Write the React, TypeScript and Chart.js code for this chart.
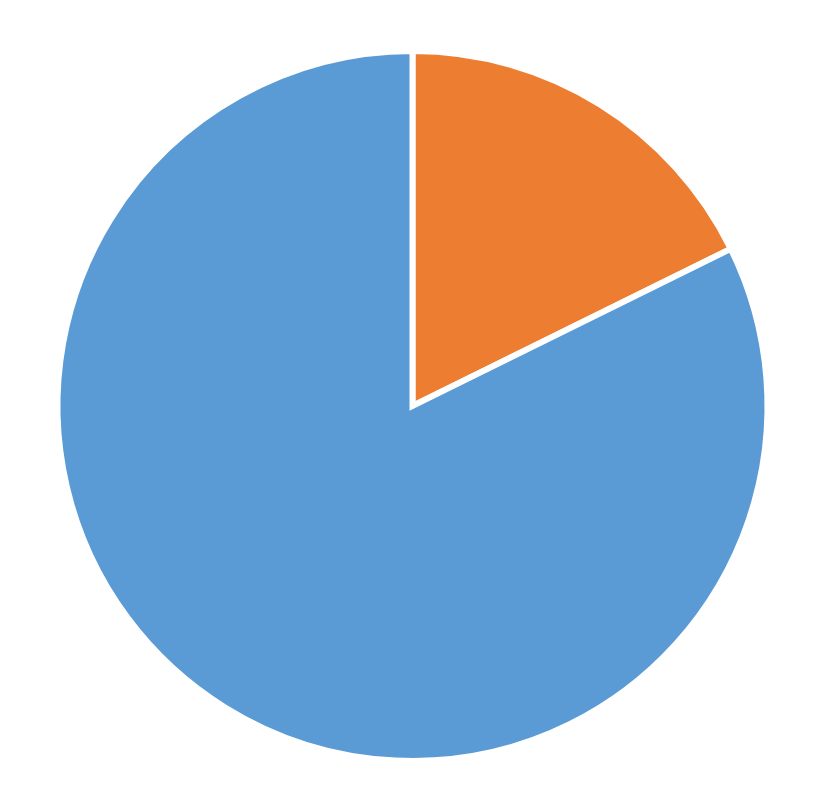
import React, { useEffect, useRef } from 'react';
import Chart from 'chart.js/auto';

const labels = ['Part A', 'Part B'];
const values = [17.7, 82.3];
const colors = ['#ED7D31', '#5B9BD5'];

const App: React.FC = () => {
  const canvasRef = useRef<HTMLCanvasElement | null>(null);
  const chartRef = useRef<Chart<'pie'> | null>(null);

  useEffect(() => {
    const ctx = canvasRef.current?.getContext('2d');
    if (ctx) {
      chartRef.current = new Chart(ctx, {
        type: 'pie',
        data: {
          labels,
          datasets: [
            {
              data: values,
              backgroundColor: colors,
              borderColor: '#ffffff',
              borderWidth: 6,
              borderJoinStyle: 'miter',
            },
          ],
        },
        options: {
          responsive: true,
          maintainAspectRatio: false,
          animation: false,
          radius: 355,
          plugins: {
            legend: { display: false },
            tooltip: { enabled: false },
          },
        },
      });
    }

    return () => {
      if (chartRef.current) chartRef.current.destroy();
    };
  }, []);

  return (
    <div style={{ width: 809, height: 796, position: 'relative' }}>
      <canvas ref={canvasRef}></canvas>
    </div>
  );
};

export default App;
